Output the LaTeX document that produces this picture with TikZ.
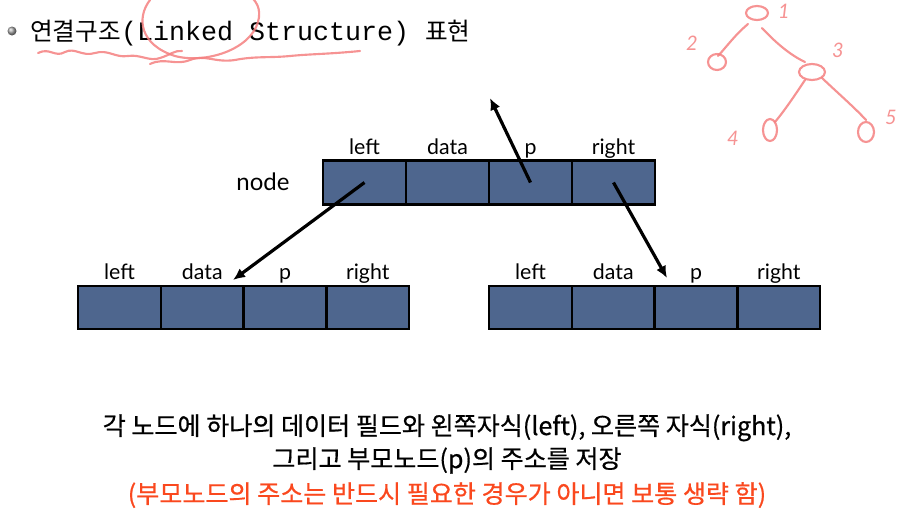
\documentclass[tikz,border=0pt]{standalone}
\usepackage{fontspec}
\setmainfont{Lato}
\newfontfamily\kr{Noto Sans CJK KR}
\newfontfamily\krtext{Noto Sans CJK KR}[FakeBold=0.6]
\newfontfamily\mono{Liberation Mono}
\usetikzlibrary{arrows.meta,calc}
\definecolor{boxblue}{RGB}{78,102,142}
\definecolor{pen}{RGB}{244,128,128}
\definecolor{note}{RGB}{250,72,30}
\tikzset{
  cell/.style={draw=black, line width=1.8pt, fill=boxblue, minimum width=62pt,
               minimum height=33pt, inner sep=0pt},
  field/.style={anchor=base, font=\fontsize{16}{18}\selectfont, inner sep=0pt},
  link/.style={line width=2.4pt, -{Latex[length=9pt,width=8pt]}},
  ink/.style={draw=pen, line width=1.6pt, line cap=round, line join=round, opacity=0.85},
  inknum/.style={text=pen, font=\fontsize{15}{15}\selectfont\itshape, opacity=0.85},
  bodytext/.style={font=\krtext\fontsize{18.8}{20}\selectfont, anchor=base, inner sep=0pt}
}
\begin{document}
\begin{tikzpicture}[x=0.75pt,y=-0.75pt]
\useasboundingbox (0,0) rectangle (918,526);

% heading with bullet
\shade[ball color=gray!70] (12,31) circle (4.5);
\node[anchor=base west, inner sep=0pt] (title) at (30,40)
  {\kr\fontsize{18.5}{20}\selectfont 연결구조\mono\fontsize{20}{20}\selectfont(Linked Structure) \kr\fontsize{18.5}{20}\selectfont 표현};

% pen marks on the heading
\draw[ink] (38,53) .. controls (50,47) and (55,58) .. (65,52)
  .. controls (75,47) and (82,57) .. (95,53) .. controls (108,49) and (115,58) .. (128,56)
  .. controls (140,54) and (150,62) .. (160,58) .. controls (170,55) and (175,50) .. (182,51);
\draw[ink] (150,64) .. controls (165,57) and (175,66) .. (190,60)
  .. controls (205,54) and (215,63) .. (235,60) .. controls (255,56) and (270,58) .. (290,56)
  .. controls (310,54) and (330,54) .. (360,51);
\draw[ink] (150,0) .. controls (136,18) and (140,45) .. (175,56)
  .. controls (205,64) and (250,50) .. (258,22) .. controls (262,8) and (255,0) .. (250,-4);

% pen sketch of a small tree
\draw[ink] (757,13) ellipse (11 and 7);
\node[inknum] (n1) at (784,11) {1};
\node[inknum] (n2) at (692,43) {2};
\draw[ink] (717,62) ellipse (9 and 8);
\draw[ink] (748,24) .. controls (735,35) and (728,45) .. (718,56);
\draw[ink] (762,28) .. controls (775,42) and (790,55) .. (805,62);
\draw[ink] (812,72) ellipse (13 and 8);
\node[inknum] (n3) at (838,50) {3};
\draw[ink] (805,80) .. controls (795,95) and (785,110) .. (775,122);
\draw[ink] (770,130) ellipse (7 and 11);
\node[inknum] (n4) at (733,138) {4};
\draw[ink] (822,78) .. controls (840,95) and (855,108) .. (866,120);
\draw[ink] (866,132) ellipse (8 and 10);
\node[inknum] (n5) at (891,117) {5};

% parent record
\node[anchor=base, font=\fontsize{18}{20}\selectfont, inner sep=0pt] (lbl) at (263,190) {node};
\foreach \nm/\i in {tl/0,td/1,tp/2,tr/3}
  \node[cell] (\nm) at ({364.5+83*\i},182.5) {};
\node[field] (tlf) at (364.5,154) {left};
\node[field] (tdf) at (447.5,154) {data};
\node[field] (tpf) at (530.5,154) {p};
\node[field] (trf) at (613.5,154) {right};

% left child record
\foreach \nm/\i in {al/0,ad/1,ap/2,ar/3}
  \node[cell, minimum height=32pt] (\nm) at ({119.5+82.75*\i},307.5) {};
\node[field] (alf) at (119.5,279) {left};
\node[field] (adf) at (202.3,279) {data};
\node[field] (apf) at (285,279) {p};
\node[field] (arf) at (367.8,279) {right};

% right child record
\foreach \nm/\i in {bl/0,bd/1,bp/2,br/3}
  \node[cell, minimum height=32pt] (\nm) at ({530.5+82.75*\i},307.5) {};
\node[field] (blf) at (530.5,279) {left};
\node[field] (bdf) at (613.3,279) {data};
\node[field] (bpf) at (696,279) {p};
\node[field] (brf) at (778.8,279) {right};

% links
\coordinate (upend) at (490,98);
\coordinate (lefttip) at (233,280);
\coordinate (righttip) at (667,278);
\draw[link] (tl.center) -- (lefttip);
\draw[link] (tp.center) -- (upend);
\draw[link] (tr.center) -- (righttip);

% caption
\node[bodytext] (c1) at (447,435) {각 노드에 하나의 데이터 필드와 왼쪽자식(left), 오른쪽 자식(right),};
\node[bodytext] (c2) at (447,468) {그리고 부모노드(p)의 주소를 저장};
\node[bodytext, text=note] (c3) at (447,503) {(부모노드의 주소는 반드시 필요한 경우가 아니면 보통 생략 함)};
\end{tikzpicture}
\end{document}
